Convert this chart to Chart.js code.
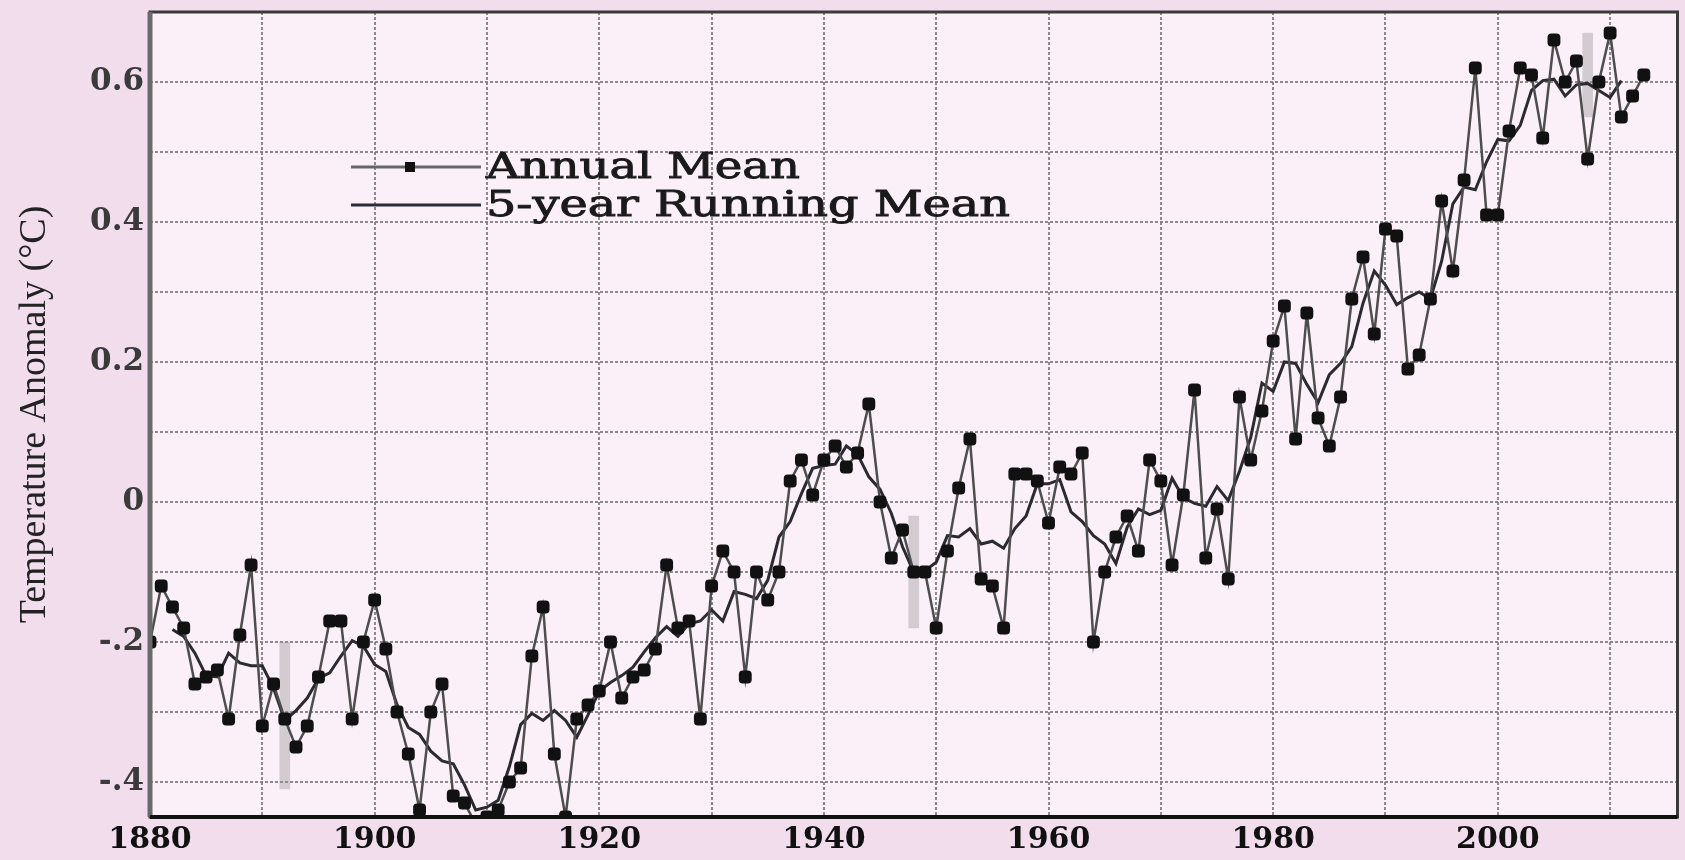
<!DOCTYPE html>
<html>
<head>
<meta charset="utf-8">
<script src="https://cdn.jsdelivr.net/npm/chart.js@4.4.1/dist/chart.umd.min.js"></script>
<style>
  html, body { margin: 0; padding: 0; background: #f2dded; }
  #wrap { width: 1685px; height: 860px; position: relative; }
</style>
</head>
<body>
<div id="wrap"><canvas id="chart" width="1685" height="860"></canvas></div>
<script>
// ---- Data ----
const annualYears = [
  1880,1881,1882,1883,1884,1885,1886,1887,1888,1889,
  1890,1891,1892,1893,1894,1895,1896,1897,1898,1899,
  1900,1901,1902,1903,1904,1905,1906,1907,1908,1909,
  1910,1911,1912,1913,1914,1915,1916,1917,1918,1919,
  1920,1921,1922,1923,1924,1925,1926,1927,1928,1929,
  1930,1931,1932,1933,1934,1935,1936,1937,1938,1939,
  1940,1941,1942,1943,1944,1945,1946,1947,1948,1949,
  1950,1951,1952,1953,1954,1955,1956,1957,1958,1959,
  1960,1961,1962,1963,1964,1965,1966,1967,1968,1969,
  1970,1971,1972,1973,1974,1975,1976,1977,1978,1979,
  1980,1981,1982,1983,1984,1985,1986,1987,1988,1989,
  1990,1991,1992,1993,1994,1995,1996,1997,1998,1999,
  2000,2001,2002,2003,2004,2005,2006,2007,2008,2009,
  2010,2011,2012,2013
];
const annualMean = [
  -0.20,-0.12,-0.15,-0.18,-0.26,-0.25,-0.24,-0.31,-0.19,-0.09,
  -0.32,-0.26,-0.31,-0.35,-0.32,-0.25,-0.17,-0.17,-0.31,-0.20,
  -0.14,-0.21,-0.30,-0.36,-0.44,-0.30,-0.26,-0.42,-0.43,-0.46,
  -0.45,-0.44,-0.40,-0.38,-0.22,-0.15,-0.36,-0.45,-0.31,-0.29,
  -0.27,-0.20,-0.28,-0.25,-0.24,-0.21,-0.09,-0.18,-0.17,-0.31,
  -0.12,-0.07,-0.10,-0.25,-0.10,-0.14,-0.10, 0.03, 0.06, 0.01,
   0.06, 0.08, 0.05, 0.07, 0.14, 0.00,-0.08,-0.04,-0.10,-0.10,
  -0.18,-0.07, 0.02, 0.09,-0.11,-0.12,-0.18, 0.04, 0.04, 0.03,
  -0.03, 0.05, 0.04, 0.07,-0.20,-0.10,-0.05,-0.02,-0.07, 0.06,
   0.03,-0.09, 0.01, 0.16,-0.08,-0.01,-0.11, 0.15, 0.06, 0.13,
   0.23, 0.28, 0.09, 0.27, 0.12, 0.08, 0.15, 0.29, 0.35, 0.24,
   0.39, 0.38, 0.19, 0.21, 0.29, 0.43, 0.33, 0.46, 0.62, 0.41,
   0.41, 0.53, 0.62, 0.61, 0.52, 0.66, 0.60, 0.63, 0.49, 0.60,
   0.67, 0.55, 0.58, 0.61
];
const runningYears = [
  1882,1883,1884,1885,1886,1887,1888,1889,
  1890,1891,1892,1893,1894,1895,1896,1897,1898,1899,
  1900,1901,1902,1903,1904,1905,1906,1907,1908,1909,
  1910,1911,1912,1913,1914,1915,1916,1917,1918,1919,
  1920,1921,1922,1923,1924,1925,1926,1927,1928,1929,
  1930,1931,1932,1933,1934,1935,1936,1937,1938,1939,
  1940,1941,1942,1943,1944,1945,1946,1947,1948,1949,
  1950,1951,1952,1953,1954,1955,1956,1957,1958,1959,
  1960,1961,1962,1963,1964,1965,1966,1967,1968,1969,
  1970,1971,1972,1973,1974,1975,1976,1977,1978,1979,
  1980,1981,1982,1983,1984,1985,1986,1987,1988,1989,
  1990,1991,1992,1993,1994,1995,1996,1997,1998,1999,
  2000,2001,2002,2003,2004,2005,2006,2007,2008,2009,
  2010,2011
];
const runningMean = [
  -0.182,-0.192,-0.216,-0.248,-0.250,-0.216,-0.230,-0.234,
  -0.234,-0.266,-0.312,-0.298,-0.280,-0.252,-0.244,-0.220,-0.198,-0.206,
  -0.232,-0.242,-0.290,-0.322,-0.332,-0.356,-0.370,-0.374,-0.404,-0.440,
  -0.436,-0.426,-0.378,-0.318,-0.302,-0.312,-0.298,-0.312,-0.336,-0.304,
  -0.270,-0.258,-0.248,-0.236,-0.214,-0.194,-0.178,-0.192,-0.174,-0.170,
  -0.154,-0.170,-0.128,-0.132,-0.138,-0.112,-0.050,-0.028, 0.012, 0.048,
   0.052, 0.054, 0.080, 0.068, 0.036, 0.018,-0.016,-0.064,-0.100,-0.098,
  -0.086,-0.048,-0.050,-0.038,-0.060,-0.056,-0.066,-0.038,-0.020, 0.026,
   0.026, 0.032,-0.014,-0.028,-0.048,-0.060,-0.088,-0.036,-0.010,-0.018,
  -0.012, 0.034, 0.006,-0.002,-0.006, 0.022, 0.002, 0.044, 0.092, 0.170,
   0.158, 0.200, 0.198, 0.168, 0.142, 0.182, 0.198, 0.222, 0.284, 0.330,
   0.310, 0.282, 0.292, 0.300, 0.290, 0.344, 0.426, 0.450, 0.446, 0.486,
   0.518, 0.516, 0.538, 0.588, 0.602, 0.604, 0.580, 0.596, 0.598, 0.588,
   0.578, 0.602
];
// Uncertainty bars (grey)
const errYears = [1892, 1948, 2008];
const errLow   = [-0.41, -0.18, 0.55];
const errHigh  = [-0.20, -0.02, 0.67];

// Tick labels
const xTickLabels = [1880, 1900, 1920, 1940, 1960, 1980, 2000];
const yTickValues = [0.6, 0.4, 0.2, 0, -0.2, -0.4];
const yTickLabels = ['0.6', '0.4', '0.2', '0', '-.2', '-.4'];
const seriesLabels = ['Annual Mean', '5-year Running Mean'];
const yTitle = 'Temperature Anomaly (°C)';

// ---- Plugins ----
const backgroundPlugin = {
  id: 'bg',
  beforeDraw(chart) {
    const c = chart.ctx, a = chart.chartArea;
    c.save();
    c.fillStyle = '#f2dded';
    c.fillRect(0, 0, chart.width, chart.height);
    c.fillStyle = '#fbf0f8';
    c.fillRect(a.left, a.top, a.right - a.left, a.bottom - a.top);
    c.restore();
  }
};

const framePlugin = {
  id: 'frame',
  afterDraw(chart) {
    const c = chart.ctx, a = chart.chartArea;
    c.save();
    c.strokeStyle = '#3a3a3a';
    c.lineWidth = 3;
    c.strokeRect(a.left, a.top, a.right - a.left, a.bottom - a.top);
    c.strokeStyle = '#6a6a6a';
    c.lineWidth = 5;
    c.beginPath(); c.moveTo(a.left, a.top); c.lineTo(a.left, a.bottom); c.stroke();
    c.strokeStyle = '#111';
    c.lineWidth = 4;
    c.beginPath(); c.moveTo(a.left, a.bottom); c.lineTo(a.right, a.bottom); c.stroke();
    c.restore();
  }
};

const legendPlugin = {
  id: 'insideLegend',
  afterDraw(chart) {
    const c = chart.ctx, a = chart.chartArea;
    const ds = chart.data.datasets;
    const x0 = a.left + 201, x1 = a.left + 331, tx = a.left + 336;
    const rows = [
      { ly: a.top + 155, base: a.top + 166, color: '#666', marker: true, text: ds[0].label, w: 314 },
      { ly: a.top + 193, base: a.top + 204, color: '#2c2c38', marker: false, text: ds[1].label, w: 524 }
    ];
    c.save();
    c.font = '35px "DejaVu Serif"';
    c.textBaseline = 'alphabetic';
    c.textAlign = 'left';
    rows.forEach(r => {
      c.strokeStyle = r.color;
      c.lineWidth = 3;
      c.beginPath(); c.moveTo(x0, r.ly); c.lineTo(x1, r.ly); c.stroke();
      if (r.marker) {
        c.fillStyle = '#111';
        c.fillRect(a.left + 255, r.ly - 5, 10, 10);
      }
      const m = c.measureText(r.text).width;
      c.save();
      c.translate(tx, r.base);
      c.scale(r.w / m, 1);
      c.fillStyle = '#1a1a1a';
      c.strokeStyle = '#1a1a1a';
      c.lineWidth = 0.9;
      c.fillText(r.text, 0, 0);
      c.strokeText(r.text, 0, 0);
      c.restore();
    });
    c.restore();
  }
};

// ---- Chart ----
const gridColor = 'rgba(120,120,120,0.85)';
new Chart(document.getElementById('chart'), {
  type: 'line',
  data: {
    datasets: [
      {
        label: seriesLabels[0],
        data: annualYears.map((x, i) => ({ x: x, y: annualMean[i] })),
        borderColor: '#4d4d4d',
        borderWidth: 2.5,
        tension: 0,
        pointStyle: 'rectRounded',
        pointRadius: 7.5,
        pointBackgroundColor: '#111',
        pointBorderColor: '#111',
        pointBorderWidth: 0,
        order: 1
      },
      {
        label: seriesLabels[1],
        data: runningYears.map((x, i) => ({ x: x, y: runningMean[i] })),
        borderColor: '#2a2a30',
        borderWidth: 3,
        tension: 0,
        pointRadius: 0,
        order: 2
      },
      {
        type: 'bar',
        label: 'Uncertainty',
        data: errYears.map((x, i) => ({ x: x, y: [errLow[i], errHigh[i]] })),
        backgroundColor: 'rgba(150,150,150,0.4)',
        borderWidth: 0,
        barThickness: 10,
        order: 3
      }
    ]
  },
  options: {
    responsive: false,
    animation: false,
    devicePixelRatio: 1,
    layout: { padding: { top: 12, right: 7, left: 0, bottom: 0 } },
    plugins: { legend: { display: false }, tooltip: { enabled: false } },
    scales: {
      x: {
        type: 'linear',
        min: 1880,
        max: 2016,
        offset: false,
        ticks: {
          stepSize: 10,
          includeBounds: false,
          autoSkip: false,
          maxRotation: 0,
          padding: 5,
          color: '#111',
          font: { family: 'DejaVu Serif', size: 30, weight: 'bold' },
          callback: (v) => xTickLabels.includes(v) ? String(v) : ''
        },
        grid: { color: gridColor, lineWidth: 2, drawTicks: false, offset: false },
        border: { display: false, dash: [3, 2] },
        afterFit(s) { s.height = 43; s.paddingLeft = 0; s.paddingRight = 0; }
      },
      y: {
        min: -0.45,
        max: 0.70,
        ticks: {
          stepSize: 0.1,
          includeBounds: false,
          padding: 6,
          color: '#3a3a3a',
          font: { family: 'DejaVu Serif', size: 31, weight: 'bold' },
          callback: (v) => {
            const i = yTickValues.findIndex(t => Math.abs(t - v) < 1e-6);
            return i >= 0 ? yTickLabels[i] : '';
          }
        },
        grid: { color: gridColor, lineWidth: 2, drawTicks: false, offset: false },
        border: { display: false, dash: [3, 2] },
        title: {
          display: true,
          text: yTitle,
          color: '#222',
          font: { family: 'Liberation Serif', size: 38 },
          padding: { top: 12, bottom: 0 }
        },
        afterFit(s) { s.width = 150; s.paddingTop = 0; s.paddingBottom = 0; }
      }
    }
  },
  plugins: [backgroundPlugin, legendPlugin, framePlugin]
});
</script>
</body>
</html>
